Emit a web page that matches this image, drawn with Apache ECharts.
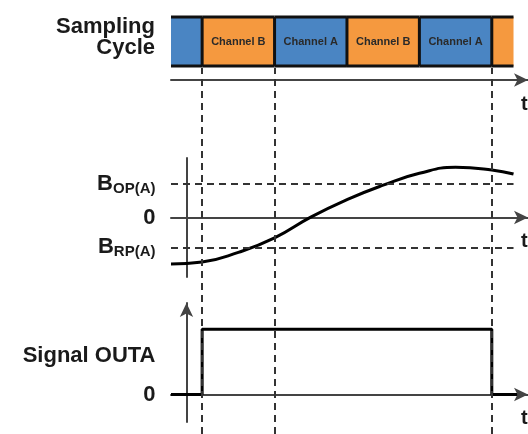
<!DOCTYPE html>
<html>
<head>
<meta charset="utf-8">
<style>
  html, body { margin: 0; padding: 0; background: #fff; }
  #main { width: 528px; height: 434px; }
</style>
<script src="https://cdn.jsdelivr.net/npm/echarts@6/dist/echarts.min.js"></script>
</head>
<body>
<div id="main"></div>
<script>
// sampling slots (time in slot units, 0 = first Channel B start)
const slotStart = [-0.43, 0, 1, 2, 3, 4];
const slotEnd = [0, 1, 2, 3, 4, 4.3];
const slotChannel = ["A", "B", "A", "B", "A", "B"];
const slotLabel = ["", "Channel B", "Channel A", "Channel B", "Channel A", ""];

// magnetic field curve
const curveT = [-0.43, 0, 0.5, 1, 1.5, 2, 2.5, 3, 3.5, 4, 4.3];
const curveB = [-2.74, -2.62, -2.05, -1.2, 0.02, 1.05, 1.9, 2.6, 2.95, 2.8, 2.56];

// thresholds
const bOP = 2;
const bRP = -1.75;

// output signal
const signalT = [-0.43, 0, 0, 4, 4, 4.35];
const signalV = [0, 0, 1, 1, 0, 0];

// sample instants marked with dashed lines
const sampleMarks = [0, 1, 4];

const xMin = -0.43, xMax = 4.5;
const blue = "#4a85c3", orange = "#f5993f";
const ink = "#1a1a1a";

var chart = echarts.init(document.getElementById("main"));

function timeAxis(gridIndex, show) {
  return {
    type: "value",
    gridIndex: gridIndex,
    min: xMin,
    max: xMax,
    show: show,
    name: show ? "t" : "",
    nameLocation: "end",
    nameGap: -7,
    nameTextStyle: {
      fontSize: 20,
      fontWeight: "bold",
      fontFamily: "Liberation Sans",
      color: ink,
      verticalAlign: "top",
      padding: [14, 0, 0, 0]
    },
    axisLine: {
      show: true,
      symbol: ["none", "arrow"],
      symbolSize: [10, 14],
      lineStyle: { color: "#444", width: 2 }
    },
    axisTick: { show: false },
    axisLabel: { show: false },
    splitLine: { show: false }
  };
}

const labelFont = {
  fontSize: 22,
  fontWeight: "bold",
  fontFamily: "Liberation Sans",
  color: ink
};

let option = {
  animation: false,
  grid: [
    { left: 171, right: 0, top: 10, height: 70, outerBoundsMode: "none" },
    { left: 171, right: 0, top: 158, height: 119, outerBoundsMode: "none" },
    { left: 171, right: 0, top: 303, height: 119, outerBoundsMode: "none" },
    { left: 171, right: 0, top: 68, bottom: 0, outerBoundsMode: "none" }
  ],
  xAxis: [timeAxis(0, true), timeAxis(1, true), timeAxis(2, true), timeAxis(3, false)],
  yAxis: [
    {
      type: "value",
      gridIndex: 0,
      min: 0,
      max: 1,
      axisLine: { show: false },
      axisTick: { show: false },
      splitLine: { show: false },
      axisLabel: {
        customValues: [0.61],
        margin: 16,
        align: "right",
        lineHeight: 21,
        formatter: function() {
          return "Sampling\nCycle";
        },
        ...labelFont
      }
    },
    {
      type: "value",
      gridIndex: 1,
      min: -3.5,
      max: 3.5,
      offset: -15.5,
      axisLine: { show: true, onZero: false, lineStyle: { color: "#444", width: 2 } },
      axisTick: { show: false },
      splitLine: { show: false },
      axisLabel: {
        customValues: [bRP, 0, bOP],
        margin: 31,
        formatter: function(v) {
          if (v === bOP) return "{b|B}{s|OP(A)}";
          if (v === bRP) return "{b|B}{s|RP(A)}";
          return "{b|0}";
        },
        rich: {
          b: { ...labelFont },
          s: {
            fontSize: 15,
            fontWeight: "bold",
            fontFamily: "Liberation Sans",
            color: ink,
            padding: [10, 0, 0, 0]
          }
        }
      }
    },
    {
      type: "value",
      gridIndex: 2,
      min: -0.42,
      max: 1.4,
      offset: -15.5,
      axisLine: {
        show: true,
        onZero: false,
        symbol: ["none", "arrow"],
        symbolSize: [10, 14],
        lineStyle: { color: "#444", width: 2 }
      },
      axisTick: { show: false },
      splitLine: { show: false },
      axisLabel: {
        customValues: [0, 0.59],
        margin: 31,
        formatter: function(v) {
          return v === 0 ? "0" : "Signal OUTA";
        },
        ...labelFont
      }
    },
    { type: "value", gridIndex: 3, min: 0, max: 1, show: false }
  ],
  series: [
    {
      // dashed sample instants across the whole diagram
      type: "line",
      xAxisIndex: 3,
      yAxisIndex: 3,
      data: [],
      silent: true,
      z: 1,
      markLine: {
        symbol: "none",
        silent: true,
        label: { show: false },
        lineStyle: { color: "#333", width: 2, type: [7, 5] },
        data: sampleMarks.map(function(t) {
          return { xAxis: t };
        })
      }
    },
    {
      // sampling cycle bar
      type: "custom",
      xAxisIndex: 0,
      yAxisIndex: 0,
      z: 3,
      data: slotStart.map(function(s, i) {
        return [s, slotEnd[i], i];
      }),
      renderItem: function(params, api) {
        const i = api.value(2);
        const p0 = api.coord([api.value(0), 0.9]);
        const p1 = api.coord([api.value(1), 0.2]);
        const children = [
          {
            type: "rect",
            shape: { x: p0[0], y: p0[1], width: p1[0] - p0[0], height: p1[1] - p0[1] },
            style: { fill: slotChannel[i] === "A" ? blue : orange }
          },
          {
            type: "line",
            shape: { x1: p0[0], y1: p0[1], x2: p1[0], y2: p0[1] },
            style: { stroke: "#111", lineWidth: 3 }
          },
          {
            type: "line",
            shape: { x1: p0[0], y1: p1[1], x2: p1[0], y2: p1[1] },
            style: { stroke: "#111", lineWidth: 3 }
          }
        ];
        if (api.value(0) > xMin) {
          children.push({
            type: "line",
            shape: { x1: p0[0], y1: p0[1], x2: p0[0], y2: p1[1] },
            style: { stroke: "#111", lineWidth: 3 }
          });
        }
        if (slotLabel[i]) {
          children.push({
            type: "text",
            style: {
              text: slotLabel[i],
              x: (p0[0] + p1[0]) / 2,
              y: (p0[1] + p1[1]) / 2,
              align: "center",
              verticalAlign: "middle",
              fontSize: 11,
              fontWeight: "bold",
              fontFamily: "Liberation Sans",
              fill: "#2a2a2a"
            }
          });
        }
        return { type: "group", children: children };
      }
    },
    {
      // field curve with thresholds
      type: "line",
      xAxisIndex: 1,
      yAxisIndex: 1,
      z: 3,
      smooth: 0.5,
      showSymbol: false,
      lineStyle: { color: "#000", width: 3 },
      data: curveT.map(function(t, i) {
        return [t, curveB[i]];
      }),
      markLine: {
        symbol: "none",
        silent: true,
        label: { show: false },
        lineStyle: { color: "#333", width: 2, type: [7, 5] },
        data: [
          [{ coord: [xMin, bOP] }, { coord: [4.3, bOP] }],
          [{ coord: [xMin, bRP] }, { coord: [4.3, bRP] }]
        ]
      }
    },
    {
      // output signal
      type: "line",
      xAxisIndex: 2,
      yAxisIndex: 2,
      z: 3,
      showSymbol: false,
      lineStyle: { color: "#000", width: 3 },
      data: signalT.map(function(t, i) {
        return [t, signalV[i]];
      })
    }
  ]
};

chart.setOption(option);
window.addEventListener("resize", () => {
  chart.resize();
});
</script>
</body>
</html>
